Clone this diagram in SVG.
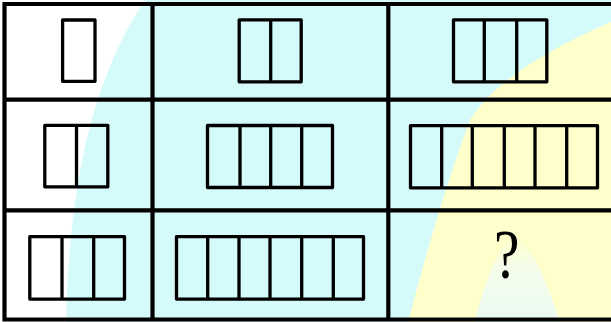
<svg xmlns="http://www.w3.org/2000/svg" width="611" height="322" viewBox="0 0 611 322">
<style>
.grid{stroke:#000;stroke-width:4.2;fill:none;stroke-linecap:square}
.fig{stroke:#000;stroke-width:3.3;fill:none;stroke-linejoin:round}
.q{font-family:"Liberation Serif","Times New Roman",serif;font-size:70px;fill:#000}
</style>
<defs>
<linearGradient id="peak" x1="0" y1="0" x2="0" y2="1">
<stop offset="0" stop-color="#FFFFCC"/>
<stop offset="0.35" stop-color="#F4FDEB"/>
<stop offset="1" stop-color="#EAFBF2"/>
</linearGradient>
</defs>
<g id="background">
<rect x="0" y="0" width="611" height="322" fill="#FFFFFF"/>
<path d="M145,0 C105,60 70,150 66,322 L611,322 L611,0 Z" fill="#D5FAFA"/>
<path d="M611,22 Q500,70 470,120 Q440,200 408,322 L611,322 Z" fill="#FFFFCC"/>
<path d="M474,322 Q498,238 515,238 Q532,238 560,322 Z" fill="url(#peak)"/>
</g>
<g id="connectors">
<path class="grid" d="M4.5,4 H611 M4.5,99.7 H611 M4.5,210.3 H611 M4.5,319.5 H611 M4.5,4 V319.5 M152.5,4 V319.5 M388.3,4 V319.5"/>
</g>
<g id="cell-1-1">
<rect class="fig" x="62.6" y="20" width="32.4" height="61.3"/>
</g>
<g id="cell-1-2">
<rect class="fig" x="239.2" y="19.8" width="62" height="62"/>
<path class="fig" d="M270.7,19.8 V81.8"/>
</g>
<g id="cell-1-3">
<rect class="fig" x="453.5" y="19.8" width="93.3" height="62"/>
<path class="fig" d="M484.3,19.8 V81.8 M516.7,19.8 V81.8"/>
</g>
<g id="cell-2-1">
<rect class="fig" x="44.8" y="125.3" width="63" height="61.5"/>
<path class="fig" d="M76.5,125.3 V186.8"/>
</g>
<g id="cell-2-2">
<rect class="fig" x="207.5" y="125.5" width="125" height="62"/>
<path class="fig" d="M240,125.5 V187.5 M270.7,125.5 V187.5 M301.7,125.5 V187.5"/>
</g>
<g id="cell-2-3">
<rect class="fig" x="410.5" y="125.6" width="187" height="62.2"/>
<path class="fig" d="M441.7,125.6 V187.8 M472.3,125.6 V187.8 M504.3,125.6 V187.8 M535,125.6 V187.8 M566.7,125.6 V187.8"/>
</g>
<g id="cell-3-1">
<rect class="fig" x="29.8" y="236.6" width="94.7" height="62.5"/>
<path class="fig" d="M62,236.6 V299.1 M93.7,236.6 V299.1"/>
</g>
<g id="cell-3-2">
<rect class="fig" x="176.5" y="236.6" width="187" height="62.5"/>
<path class="fig" d="M207.7,236.6 V299.1 M239,236.6 V299.1 M270,236.6 V299.1 M301.7,236.6 V299.1 M333.3,236.6 V299.1"/>
</g>
<g id="cell-3-3">
<text class="q" x="0" y="0" text-anchor="middle" transform="translate(506.7,278.3) scale(0.82,1)">?</text>
</g>
</svg>
